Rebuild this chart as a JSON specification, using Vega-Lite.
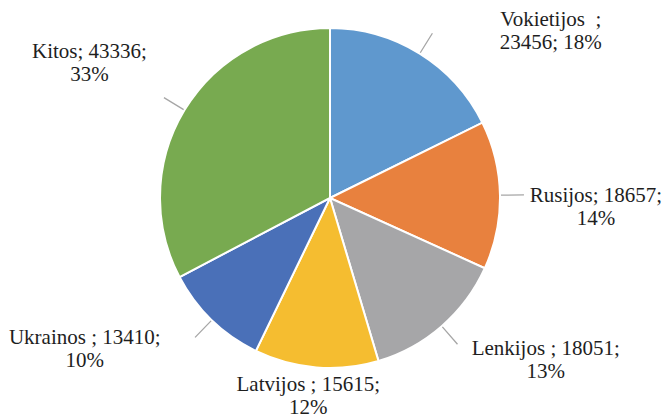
{
  "$schema": "https://vega.github.io/schema/vega-lite/v6.json",
  "width": 660,
  "height": 396,
  "autosize": "none",
  "padding": {"left": 0, "top": 0, "right": 4, "bottom": 19},
  "background": "white",
  "config": {"view": {"stroke": null}, "text": {"font": "Liberation Serif"}},
  "data": {
    "values": [
      {"country": "Vokietijos", "value": 23456, "n": 1, "label": "Vokietijos\u00a0\u00a0;\n23456; 18%"},
      {"country": "Rusijos", "value": 18657, "n": 2, "label": "Rusijos; 18657;\n14%"},
      {"country": "Lenkijos", "value": 18051, "n": 3, "label": "Lenkijos ; 18051;\n13%"},
      {"country": "Latvijos", "value": 15615, "n": 4, "label": "Latvijos ; 15615;\n12%"},
      {"country": "Ukrainos", "value": 13410, "n": 5, "label": "Ukrainos ; 13410;\n10%"},
      {"country": "Kitos", "value": 43336, "n": 6, "label": "Kitos; 43336;\n33%"}
    ]
  },
  "encoding": {
    "theta": {"field": "value", "type": "quantitative", "stack": true},
    "order": {"field": "n", "type": "quantitative"},
    "detail": {"field": "country"}
  },
  "layer": [
    {
      "mark": {"type": "arc", "outerRadius": 170, "stroke": "white", "strokeWidth": 2},
      "encoding": {
        "color": {
          "field": "country",
          "type": "nominal",
          "scale": {
            "domain": ["Vokietijos", "Rusijos", "Lenkijos", "Latvijos", "Ukrainos", "Kitos"],
            "range": ["#5F98CE", "#E8813E", "#A6A6A8", "#F5BD30", "#4A70B8", "#78AA50"]
          },
          "legend": null
        }
      }
    },
    {
      "mark": {"type": "arc", "innerRadius": 171, "outerRadius": 194, "padAngle": 3, "fillOpacity": 0, "stroke": "#A6A6A6", "strokeWidth": 1.3},
      "encoding": {"strokeOpacity": {"condition": {"test": "datum.n == 4", "value": 0}, "value": 1}}
    },
    {
      "mark": {"type": "text", "radius": 170, "dx": 131, "dy": -34, "font": "Liberation Serif", "fontSize": 21, "lineHeight": 23, "lineBreak": "\n", "align": "center", "baseline": "middle", "fill": "#1E1E1E"},
      "encoding": {"text": {"condition": {"test": "datum.n == 1", "field": "label"}, "value": ""}}
    },
    {
      "mark": {"type": "text", "radius": 170, "dx": 96, "dy": 1, "font": "Liberation Serif", "fontSize": 21, "lineHeight": 23, "lineBreak": "\n", "align": "center", "baseline": "middle", "fill": "#1E1E1E"},
      "encoding": {"text": {"condition": {"test": "datum.n == 2", "field": "label"}, "value": ""}}
    },
    {
      "mark": {"type": "text", "radius": 170, "dx": 104, "dy": 23, "font": "Liberation Serif", "fontSize": 21, "lineHeight": 23, "lineBreak": "\n", "align": "center", "baseline": "middle", "fill": "#1E1E1E"},
      "encoding": {"text": {"condition": {"test": "datum.n == 3", "field": "label"}, "value": ""}}
    },
    {
      "mark": {"type": "text", "radius": 170, "dx": -8, "dy": 18, "font": "Liberation Serif", "fontSize": 21, "lineHeight": 23, "lineBreak": "\n", "align": "center", "baseline": "middle", "fill": "#1E1E1E"},
      "encoding": {"text": {"condition": {"test": "datum.n == 4", "field": "label"}, "value": ""}}
    },
    {
      "mark": {"type": "text", "radius": 170, "dx": -127, "dy": 18, "font": "Liberation Serif", "fontSize": 21, "lineHeight": 23, "lineBreak": "\n", "align": "center", "baseline": "middle", "fill": "#1E1E1E"},
      "encoding": {"text": {"condition": {"test": "datum.n == 5", "field": "label"}, "value": ""}}
    },
    {
      "mark": {"type": "text", "radius": 170, "dx": -95, "dy": -58, "font": "Liberation Serif", "fontSize": 21, "lineHeight": 23, "lineBreak": "\n", "align": "center", "baseline": "middle", "fill": "#1E1E1E"},
      "encoding": {"text": {"condition": {"test": "datum.n == 6", "field": "label"}, "value": ""}}
    }
  ]
}
